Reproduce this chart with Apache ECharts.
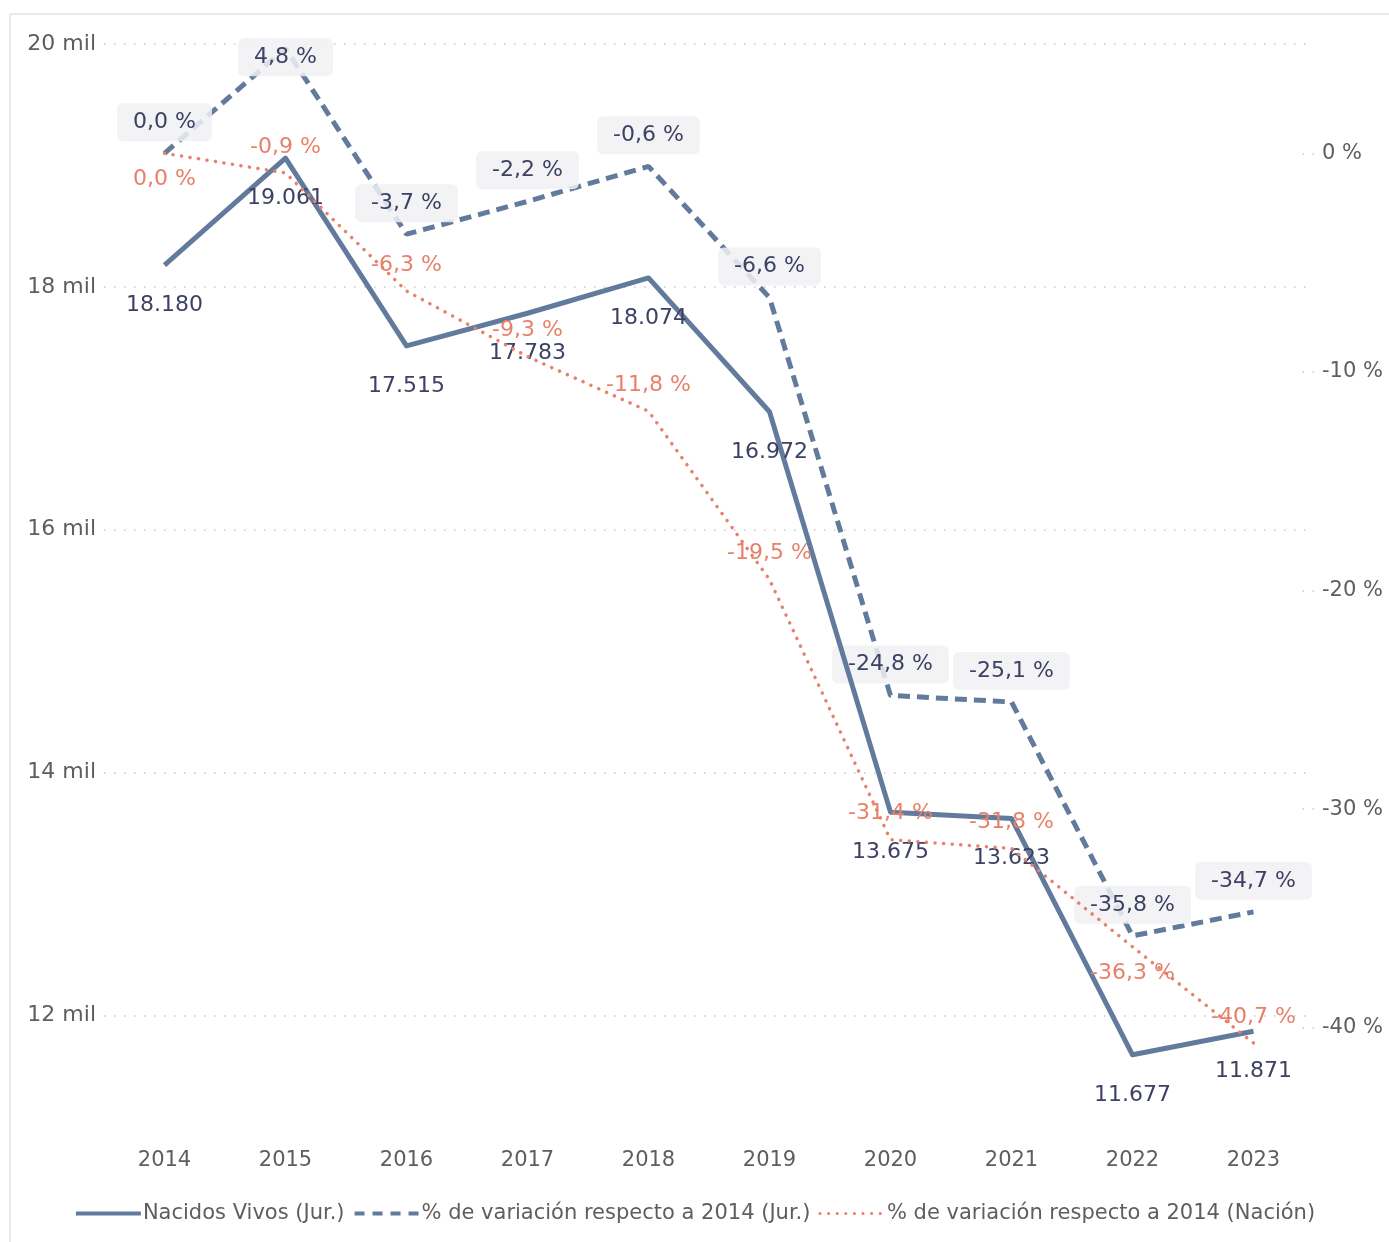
<!DOCTYPE html>
<html lang="es">
<head>
    <meta charset="utf-8">
    <title>Nacidos vivos</title>
    <script src="https://cdn.jsdelivr.net/npm/echarts@6.0.0/dist/echarts.min.js"></script>
    <style>
        html, body { margin: 0; padding: 0; background: #fff; }
        #frame {
            position: absolute; left: 9px; top: 13px;
            width: 1500px; height: 1400px;
            border-left: 2px solid #e9e9e9; border-top: 2px solid #e9e9e9;
            border-radius: 3px;
        }
        #main { position: absolute; left: 0; top: 0; width: 1389px; height: 1242px; }
    </style>
</head>
<body>
<div id="frame"></div>
<div id="main"></div>
<script type="text/javascript">
    // datos
    var years = ['2014', '2015', '2016', '2017', '2018', '2019', '2020', '2021', '2022', '2023'];
    var nacidos = [18180, 19061, 17515, 17783, 18074, 16972, 13675, 13623, 11677, 11871];
    var varJur = [0.0, 4.8, -3.7, -2.2, -0.6, -6.6, -24.8, -25.1, -35.8, -34.7];
    var varNacion = [0.0, -0.9, -6.3, -9.3, -11.8, -19.5, -31.4, -31.8, -36.3, -40.7];

    var azul = '#627b9c';
    var texto = '#3d4163';
    var salmon = '#e8806a';
    var gris = '#605e5c';
    var fuente = '"DejaVu Sans", sans-serif';

    function fmtNum(v) {
        return String(v).replace(/\B(?=(\d{3})+(?!\d))/g, '.');
    }
    function fmtPct(v) {
        return v.toFixed(1).replace('.', ',') + ' %';
    }

    // etiquetas que no caben arriba
    var jurData = varJur.map(function (v, i) {
        if (i === 1) return { value: v, label: { offset: [0, 40] } };
        return v;
    });
    var nacionData = varNacion.map(function (v, i) {
        if (i === 0 || i === 8) return { value: v, label: { position: 'bottom' } };
        return v;
    });

    var myChart = echarts.init(document.getElementById('main'), null, { renderer: 'canvas' });

    var option = {
        animation: false,
        textStyle: { fontFamily: fuente },
        grid: { left: 104, right: 75, top: 44, bottom: 105, containLabel: false },
        legend: {
            bottom: 13,
            left: 'center',
            itemWidth: 65,
            itemHeight: 14,
            itemGap: 8,
            itemStyle: { opacity: 0 },
            textStyle: { color: gris, fontSize: 21, fontFamily: fuente, padding: [0, 0, 0, -3] },
            data: [
                { name: 'Nacidos Vivos (Jur.)', lineStyle: { width: 4 } },
                { name: '% de variación respecto a 2014 (Jur.)', lineStyle: { width: 4, type: [10, 8] } },
                { name: '% de variación respecto a 2014 (Nación)', lineStyle: { width: 3 } }
            ]
        },
        xAxis: {
            type: 'category',
            data: years,
            boundaryGap: true,
            axisLine: { show: false },
            axisTick: { show: false },
            axisLabel: { color: gris, fontSize: 21, margin: 13 }
        },
        yAxis: [
            {
                type: 'value',
                min: 11000,
                max: 20000,
                splitNumber: 5,
                axisLine: { show: false },
                axisTick: { show: false },
                axisLabel: {
                    color: gris, fontSize: 22, margin: 8,
                    showMinLabel: false,
                    formatter: function (v) { return (v / 1000) + ' mil'; }
                },
                splitLine: {
                    show: true,
                    showMinLine: false,
                    lineStyle: { color: '#c9c9c9', width: 1.5, type: [1.5, 8.5] }
                }
            },
            {
                type: 'value',
                min: -45,
                max: 5,
                splitNumber: 5,
                position: 'right',
                axisLine: { show: false },
                axisTick: {
                    show: true, inside: true, length: 12,
                    lineStyle: { color: '#c9c9c9', width: 1.5, type: [1.5, 8.5] }
                },
                axisLabel: {
                    color: gris, fontSize: 21, margin: 8,
                    showMinLabel: false, showMaxLabel: false,
                    formatter: function (v) { return v + ' %'; }
                },
                splitLine: { show: false }
            }
        ],
        series: [
            {
                name: 'Nacidos Vivos (Jur.)',
                type: 'line',
                yAxisIndex: 0,
                data: nacidos,
                symbol: 'circle',
                symbolSize: 0.1,
                showSymbol: true,
                lineStyle: { color: azul, width: 5, join: 'round' },
                itemStyle: { color: azul },
                label: {
                    show: true, position: 'bottom', distance: 29,
                    color: texto, fontSize: 22,
                    formatter: function (p) { return fmtNum(p.value); }
                },
                z: 3
            },
            {
                name: '% de variación respecto a 2014 (Jur.)',
                type: 'line',
                yAxisIndex: 1,
                data: jurData,
                symbol: 'circle',
                symbolSize: 0.1,
                showSymbol: true,
                lineStyle: { color: azul, width: 5, type: [12, 7] },
                itemStyle: { color: azul },
                label: {
                    show: true, position: 'top', distance: 12,
                    color: texto, fontSize: 22,
                    backgroundColor: 'rgba(241,241,243,0.85)',
                    borderRadius: 6,
                    padding: [8, 16, 8, 16],
                    formatter: function (p) { return fmtPct(p.value); }
                },
                z: 2
            },
            {
                name: '% de variación respecto a 2014 (Nación)',
                type: 'line',
                yAxisIndex: 1,
                data: nacionData,
                symbol: 'circle',
                symbolSize: 0.1,
                showSymbol: true,
                lineStyle: { color: salmon, width: 3.5, type: [0.1, 8.5], cap: 'round' },
                itemStyle: { color: salmon },
                label: {
                    show: true, position: 'top', distance: 15,
                    color: salmon, fontSize: 22,
                    formatter: function (p) { return fmtPct(p.value); }
                },
                z: 4
            }
        ]
    };

    myChart.setOption(option);
</script>
</body>
</html>
